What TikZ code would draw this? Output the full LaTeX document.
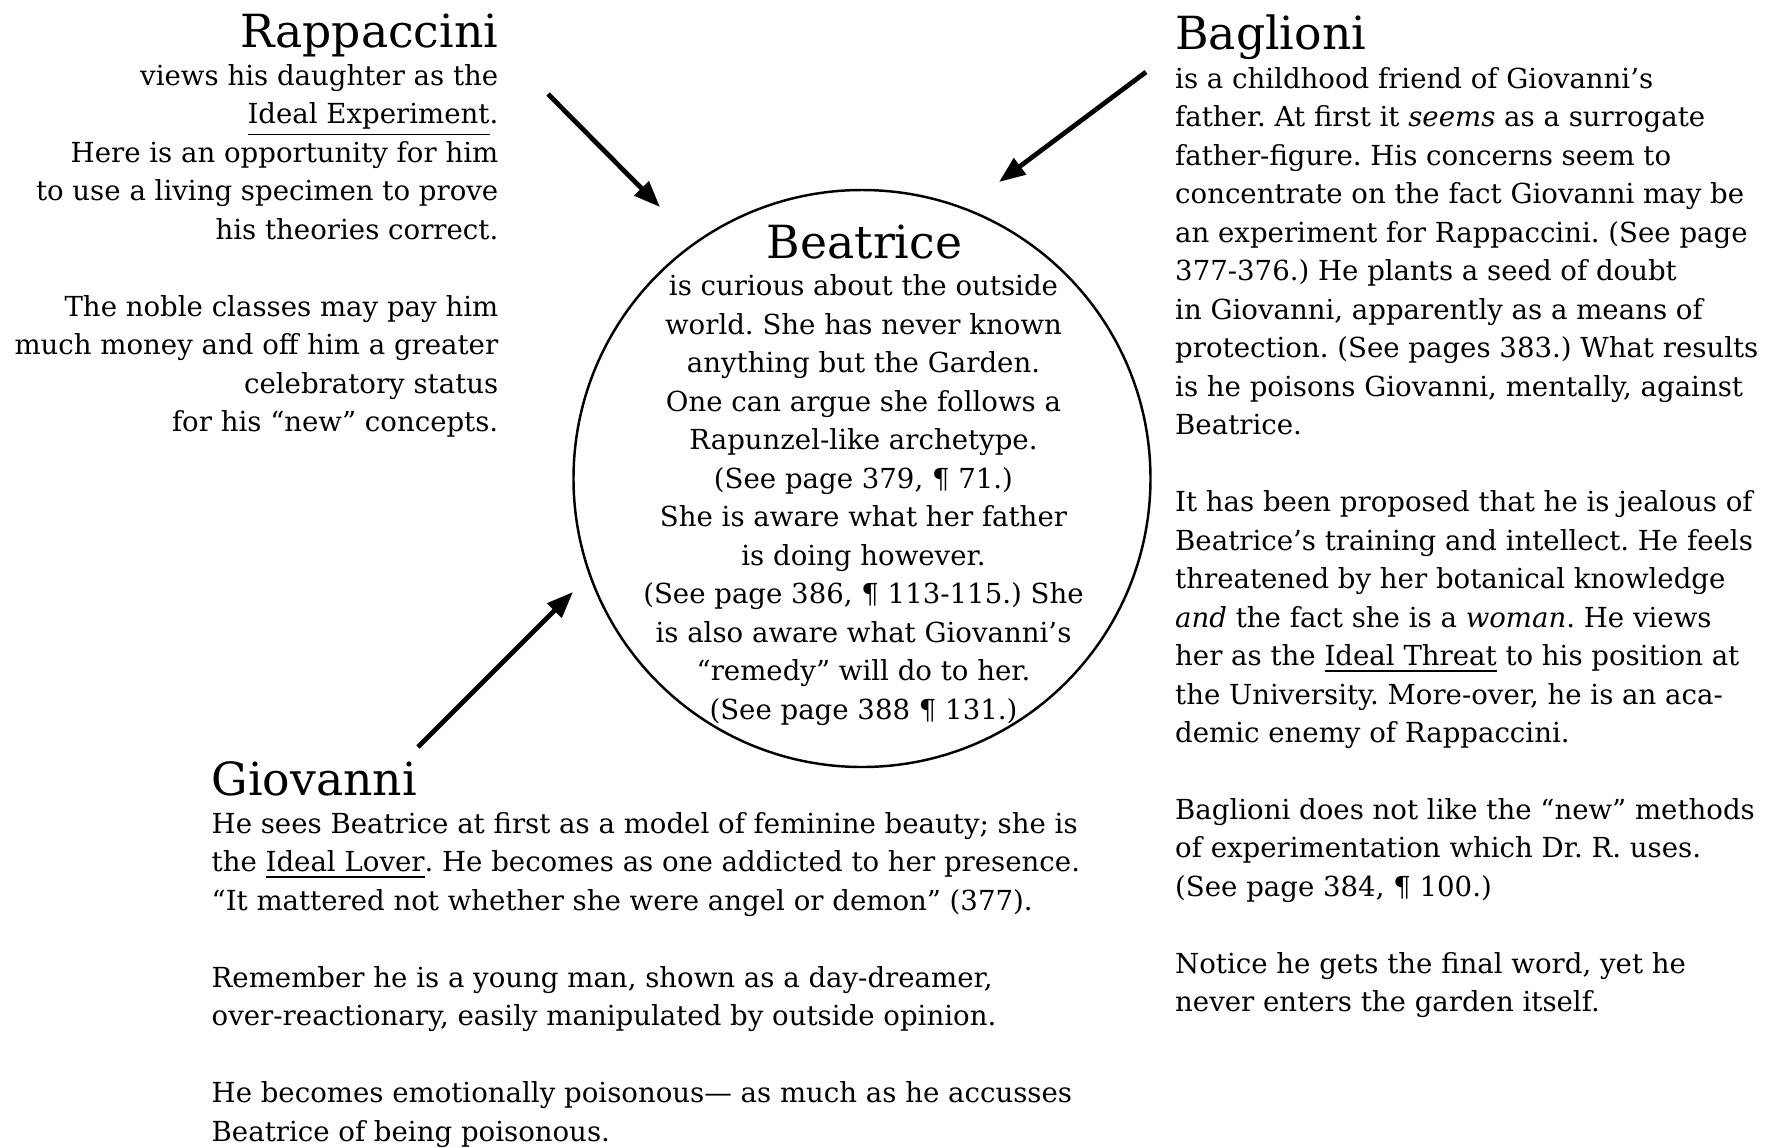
\documentclass[tikz,border=0pt]{standalone}
\usepackage{fontspec}
\setmainfont{DejaVu Serif}
\usetikzlibrary{arrows.meta}
\frenchspacing

\begin{document}
\begin{tikzpicture}[
    charname/.style={font=\fontsize{13}{15}\selectfont, inner sep=0pt},
    notes/.style={font=\fontsize{7.85}{10.95}\selectfont, inner sep=0pt},
    arrow/.style={-{Triangle[length=7.5pt,width=5.6pt]}, line width=1.35pt}
]
\useasboundingbox (0,0) rectangle (17.71,-11.48);

% Beatrice in the middle
\node[circle, draw, line width=0.7pt, minimum size=5.77cm] at (8.62,-4.785) (beatrice) {};
\node[charname, anchor=base] at (8.645,-2.58) (beaname) {Beatrice};
\node[notes, anchor=north, align=center] at (8.635,-2.741) (beatext) {is curious about the outside\\
world. She has never known\\
anything but the Garden.\\
One can argue she follows a\\
Rapunzel-like archetype.\\
(See page 379, ¶ 71.)\\
She is aware what her father\\
is doing however.\\
(See page 386, ¶ 113-115.) She\\
is also aware what Giovanni’s\\
“remedy” will do to her.\\
(See page 388 ¶ 131.)};

% Rappaccini, top left
\node[charname, anchor=base east] at (4.99,-0.47) (rapname) {Rappaccini};
\node[notes, anchor=north east, align=right] at (4.99,-0.636) (raptext) {views his daughter as the\\
\underline{Ideal Experiment}.\\
Here is an opportunity for him\\
to use a living specimen to prove\\
his theories correct.\\[10.95pt]
The noble classes may pay him\\
much money and off him a greater\\
celebratory status\\
for his “new” concepts.};

% Baglioni, right side
\node[charname, anchor=base west] at (11.745,-0.49) (bagname) {Baglioni};
\node[notes, anchor=north west, align=left] at (11.745,-0.666) (bagtext) {is a childhood friend of Giovanni’s\\
father. At first it \emph{seems} as a surrogate\\
father-figure. His concerns seem to\\
concentrate on the fact Giovanni may be\\
an experiment for Rappaccini. (See page\\
377-376.) He plants a seed of doubt\\
in Giovanni, apparently as a means of\\
protection. (See pages 383.) What results\\
is he poisons Giovanni, mentally, against\\
Beatrice.\\[10.95pt]
It has been proposed that he is jealous of\\
Beatrice’s training and intellect. He feels\\
threatened by her botanical knowledge\\
\emph{and} the fact she is a \emph{woman}. He views\\
her as the \underline{Ideal Threat} to his position at\\
the University. More-over, he is an aca-\\
demic enemy of Rappaccini.\\[10.95pt]
Baglioni does not like the “new” methods\\
of experimentation which Dr. R. uses.\\
(See page 384, ¶ 100.)\\[10.95pt]
Notice he gets the final word, yet he\\
never enters the garden itself.};

% Giovanni, bottom left
\node[charname, anchor=base west] at (2.11,-7.95) (gioname) {Giovanni};
\node[notes, anchor=north west, align=left] at (2.11,-8.116) (giotext) {He sees Beatrice at first as a model of feminine beauty; she is\\
the \underline{Ideal Lover}. He becomes as one addicted to her presence.\\
“It mattered not whether she were angel or demon” (377).\\[10.95pt]
Remember he is a young man, shown as a day-dreamer,\\
over-reactionary, easily manipulated by outside opinion.\\[10.95pt]
He becomes emotionally poisonous— as much as he accusses\\
Beatrice of being poisonous.};

% arrow ends
\coordinate (raptail) at (5.48,-0.94);
\coordinate (raptip) at (6.60,-2.07);
\coordinate (bagtail) at (11.46,-0.72);
\coordinate (bagtip) at (9.99,-1.82);
\coordinate (giotail) at (4.18,-7.47);
\coordinate (giotip) at (5.73,-5.92);

% Arrows towards Beatrice
\draw[arrow] (raptail) -- (raptip);
\draw[arrow] (bagtail) -- (bagtip);
\draw[arrow] (giotail) -- (giotip);

\end{tikzpicture}
\end{document}
